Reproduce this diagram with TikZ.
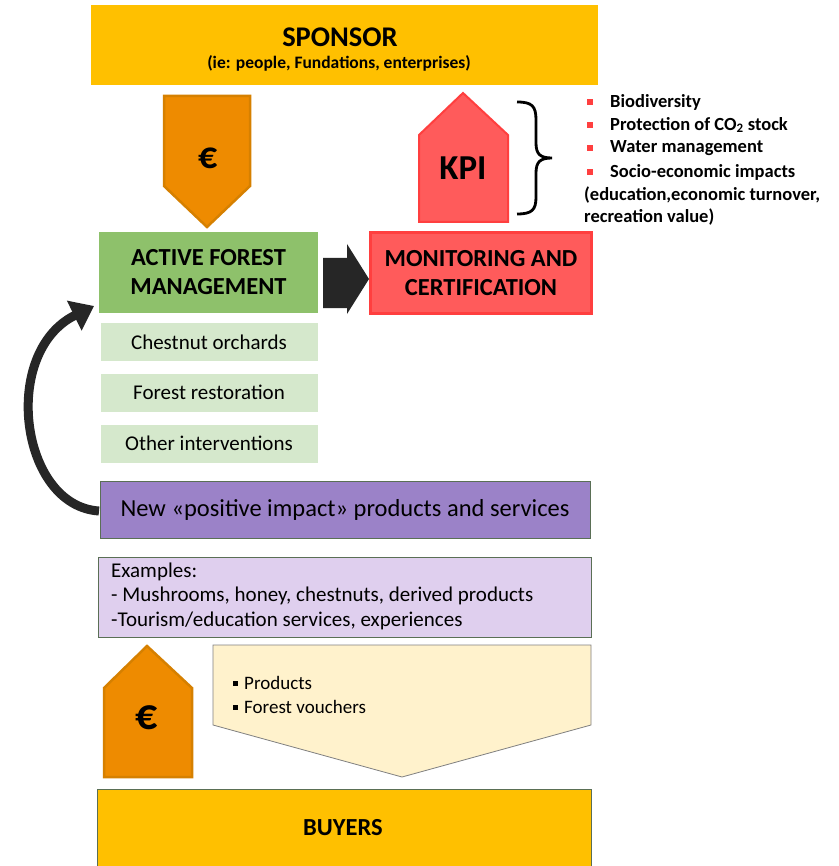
\documentclass[tikz,border=0pt]{standalone}
\usepackage{fontspec}
\setmainfont{Carlito}
\usetikzlibrary{arrows.meta}
\definecolor{sponsoryel}{HTML}{FFC000}
\definecolor{euroor}{HTML}{EE8B00}
\definecolor{euroedge}{HTML}{D68000}
\definecolor{kpired}{HTML}{FF5B5B}
\definecolor{kpiedge}{HTML}{FF3F3F}
\definecolor{afmgreen}{HTML}{8EC16B}
\definecolor{lightgreen}{HTML}{D5E8CC}
\definecolor{purp}{HTML}{9B82C8}
\definecolor{lightpurp}{HTML}{DFCFEE}
\definecolor{lightyel}{HTML}{FFF2CC}
\definecolor{boxedge}{HTML}{5A6F55}
\definecolor{blk}{HTML}{262626}
\newcommand\fs[2]{\fontsize{#1}{#2}\selectfont}
\begin{document}
\begin{tikzpicture}[x=1pt,y=-1pt,
  txt/.style={inner sep=0pt},
  ltxt/.style={inner sep=0pt, anchor=west},
  greenbox/.style={fill=lightgreen, minimum width=217pt, minimum height=38pt, inner sep=0pt, font=\fs{21}{24}}]
\useasboundingbox (0,0) rectangle (838,866);
\fill[white] (0,0) rectangle (838,866);

% SPONSOR
\node[fill=sponsoryel, minimum width=507pt, minimum height=80pt, inner sep=0pt] (sponsor) at (344.5,45) {};
\node[txt, font=\bfseries\fs{28.5}{32}] (sponsortitle) at (340,37) {SPONSOR};
\node[txt, font=\bfseries\fs{17.5}{20}] (sponsorsub) at (339,63) {(ie: people, Fundations, enterprises)};

% Euro down arrow
\filldraw[fill=euroor, draw=euroedge, line width=2.5pt, line join=miter]
  (164,96) -- (250,96) -- (250,186) -- (207,227) -- (164,186) -- cycle;
\node[txt, font=\bfseries\fs{38}{40}] (eurotop) at (208,158) {€};

% KPI up arrow
\filldraw[fill=kpired, draw=kpiedge, line width=2pt, line join=miter]
  (419,222) -- (419,135) -- (463,93) -- (508,135) -- (508,222) -- cycle;
\node[txt, font=\bfseries\fs{35}{38}] (kpi) at (463,168) {KPI};

% brace
\draw[line width=2.8pt, black]
  (517,102) .. controls (532,102) and (536,106) .. (536,120) -- (536,143)
  .. controls (536,154) and (540,158) .. (552,158)
  .. controls (540,158) and (536,162) .. (536,173) -- (536,197)
  .. controls (536,210) and (532,214) .. (517,214);

% KPI bullet list
\foreach \yy in {102,125,148,172} \fill[kpiedge] (587,\yy-3) rectangle (593,\yy+3);
\node[ltxt, font=\bfseries\fs{18.5}{21}] (kpi1) at (610,102) {Biodiversity};
\node[ltxt, font=\bfseries\fs{18.5}{21}] (kpi2) at (610,125) {Protection of CO\textsubscript{2} stock};
\node[ltxt, font=\bfseries\fs{18.5}{21}] (kpi3) at (610,148) {Water management};
\node[ltxt, font=\bfseries\fs{18.5}{21}] (kpi4) at (610,172) {Socio-economic impacts};
\node[ltxt, font=\bfseries\fs{18.5}{21}] (kpi5) at (584,195) {(education,economic turnover,};
\node[ltxt, font=\bfseries\fs{18.5}{21}] (kpi6) at (584,217) {recreation value)};

% Active forest management
\node[fill=afmgreen, minimum width=219pt, minimum height=81pt, inner sep=0pt,
      align=center, font=\bfseries\fs{24.5}{29}] (afm) at (208.5,272.5) {ACTIVE FOREST\\MANAGEMENT};

% Monitoring
\node[fill=kpired, draw=kpiedge, line width=3pt, minimum width=221pt, minimum height=81pt, inner sep=0pt,
      align=center, font=\bfseries\fs{24.5}{29}] (mon) at (481,273) {MONITORING AND\\CERTIFICATION};

% black block arrow
\fill[blk] (323,258) -- (347,258) -- (347,244) -- (369,279) -- (347,314) -- (347,308) -- (323,308) -- cycle;

% green sub boxes
\node[greenbox] (chestnut) at (209,342) {Chestnut orchards};
\node[greenbox] (restor) at (209,392.5) {Forest restoration};
\node[greenbox] (other) at (209,443.5) {Other interventions};

% purple box
\node[fill=purp, draw=boxedge, line width=0.8pt, minimum width=490pt, minimum height=57pt, inner sep=0pt,
      font=\fs{24.5}{28}] (newprod) at (345,509.5) {New «positive impact» products and services};

% curved arrow
\draw[blk, line width=9pt, -{Triangle[length=22pt,width=32pt]}]
  (99,511) .. controls (20,506) and (0,352) .. (94,306);

% examples box
\node[fill=lightpurp, draw=boxedge, line width=0.8pt, minimum width=493pt, minimum height=80pt, inner sep=0pt] (examples) at (344.5,597) {};
\node[ltxt, font=\fs{21}{24}] (ex1) at (111,572) {Examples:};
\node[ltxt, font=\fs{21}{24}] (ex2) at (111,596) {- Mushrooms, honey, chestnuts, derived products};
\node[ltxt, font=\fs{21}{24}] (ex3) at (111,621) {-Tourism/education services, experiences};

% Euro up arrow
\filldraw[fill=euroor, draw=euroedge, line width=2.5pt, line join=miter]
  (104,777) -- (104,688) -- (147,646) -- (192,688) -- (192,777) -- cycle;
\node[txt, font=\bfseries\fs{44}{46}] (eurobot) at (147,718) {€};

% light yellow pentagon
\filldraw[fill=lightyel, draw=gray, line width=0.8pt, line join=miter]
  (213,645) -- (591,645) -- (591,725) -- (402,777) -- (213,725) -- cycle;
\fill[black] (233,680.5) rectangle (238,685.5);
\fill[black] (233,704.5) rectangle (238,709.5);
\node[ltxt, font=\fs{19}{22}] (prod1) at (244,683) {Products};
\node[ltxt, font=\fs{19}{22}] (prod2) at (244,707) {Forest vouchers};

% buyers
\node[fill=sponsoryel, draw=boxedge, line width=0.8pt, minimum width=494pt, minimum height=90pt, inner sep=0pt,
      anchor=north] (buyers) at (344,789) {};
\node[txt, font=\bfseries\fs{24.5}{27}] (buyerstxt) at (343,828) {BUYERS};
\end{tikzpicture}
\end{document}
